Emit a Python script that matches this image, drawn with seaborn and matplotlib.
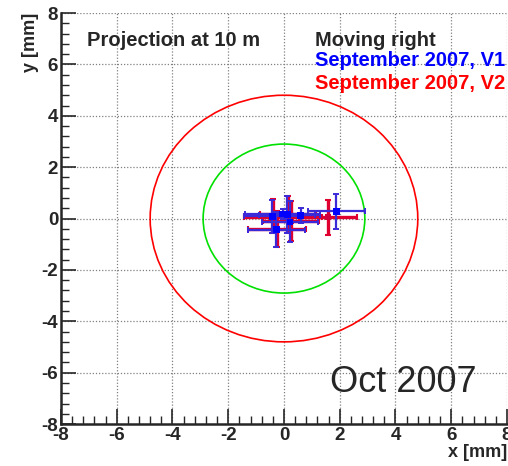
import numpy as np
import pandas as pd
import matplotlib
matplotlib.use("Agg")
import matplotlib.pyplot as plt
import seaborn as sns
from matplotlib.patches import Circle
from matplotlib.ticker import MultipleLocator

# --- data ---
v1_x = [-0.42, -0.27, 0.12, 0.22, 1.88, 0.60, -0.05]
v1_y = [0.08, -0.43, 0.15, -0.13, 0.28, 0.12, 0.18]
v1_xerr = [1.00, 1.03, 1.00, 1.00, 1.03, 0.70, 1.35]
v1_yerr = [0.65, 0.68, 0.71, 0.80, 0.68, 0.30, 0.20]

v2_x = [-0.40, -0.25, 0.14, 0.24, 1.58, -0.03]
v2_y = [0.10, -0.41, 0.17, -0.11, 0.05, 0.06]
v2_xerr = [1.05, 1.03, 1.00, 1.00, 1.04, 1.40]
v2_yerr = [0.66, 0.70, 0.72, 0.78, 0.68, 0.20]

circle_radii = [4.8, 2.9]
circle_colors = ["#ff0000", "#00e000"]

sns.set_style("ticks")
plt.rcParams['font.family'] = ['Liberation Sans', 'DejaVu Sans']
plt.rcParams['axes.unicode_minus'] = False

fig = plt.figure(figsize=(5.08, 4.66), dpi=100)
ax = fig.add_axes([0.12, 0.09, 0.878, 0.882])

for r, c in zip(circle_radii, circle_colors):
    ax.add_patch(Circle((0, 0), r, fill=False, color=c, lw=1.2, zorder=2))

df2 = pd.DataFrame({"x": v2_x, "y": v2_y})
df1 = pd.DataFrame({"x": v1_x, "y": v1_y})

ax.errorbar(v2_x, v2_y, xerr=v2_xerr, yerr=v2_yerr, fmt='none',
            ecolor="#e00030", elinewidth=2.4, capsize=2, capthick=1.5, zorder=3)
sns.scatterplot(data=df2, x="x", y="y", ax=ax, color="#d00040", marker="s",
                s=20, edgecolor="none", zorder=4)
ax.errorbar(v1_x, v1_y, xerr=v1_xerr, yerr=v1_yerr, fmt='none',
            ecolor="#3a2ad8", elinewidth=1.6, capsize=2, capthick=1.4, zorder=5)
sns.scatterplot(data=df1, x="x", y="y", ax=ax, color="#0000ff", marker="s",
                s=22, edgecolor="none", zorder=6)

ax.set_xlim(-8, 8)
ax.set_ylim(-8, 8)
ax.xaxis.set_major_locator(MultipleLocator(2))
ax.yaxis.set_major_locator(MultipleLocator(2))
ax.xaxis.set_minor_locator(MultipleLocator(0.4))
ax.yaxis.set_minor_locator(MultipleLocator(0.4))
ax.tick_params(which='major', direction='in', length=11, width=1.2,
               labelsize=13.5, pad=2)
ax.tick_params(which='minor', direction='in', length=6, width=1.0)
for lab in ax.get_xticklabels() + ax.get_yticklabels():
    lab.set_fontweight('bold')
ax.grid(True, which='major', color='#808080', linestyle=(0, (1, 1.5)), lw=0.9)
ax.set_axisbelow(True)

for s in ['top', 'right']:
    ax.spines[s].set_visible(False)
for s in ['left', 'bottom']:
    ax.spines[s].set_linewidth(1.8)

ax.set_xlabel("x [mm]", fontsize=13, fontweight='bold', loc='right', labelpad=0)
ax.set_ylabel("y [mm]", fontsize=13, fontweight='bold', loc='top', labelpad=2)

ax.text(-7.06, 6.93, "Projection at 10 m", fontsize=14.5, fontweight='bold',
        ha='left', va='center')
ax.text(1.11, 6.93, "Moving right", fontsize=14.5, fontweight='bold',
        ha='left', va='center')
ax.text(1.11, 6.15, "September 2007, V1", fontsize=14.5, fontweight='bold',
        color='#0000ff', ha='left', va='center')
ax.text(1.11, 5.25, "September 2007, V2", fontsize=14.5, fontweight='bold',
        color='#ff0000', ha='left', va='center')
ax.text(1.65, -6.38, "Oct 2007", fontsize=26, ha='left', va='center')

fig.savefig("out.png", dpi=100)
